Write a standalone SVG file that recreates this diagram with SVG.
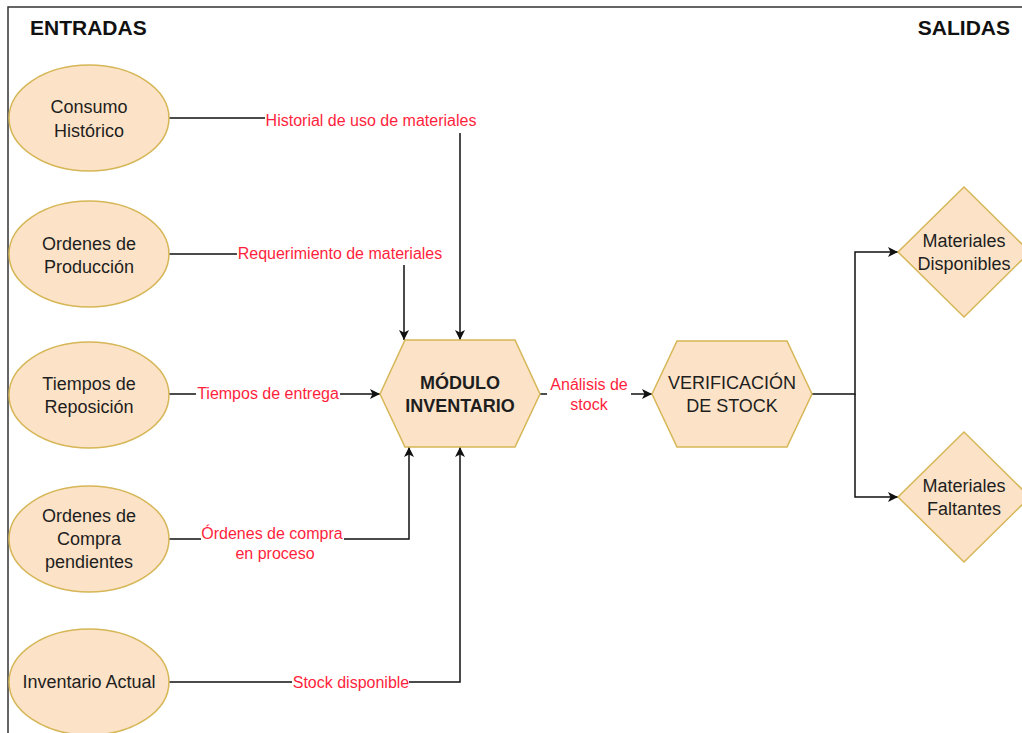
<svg xmlns="http://www.w3.org/2000/svg" width="1022" height="733" viewBox="0 0 1022 733">
  <style>
    .shape { fill: #fce3c7; stroke: #d6b656; stroke-width: 1.5; }
    .ntext { font-family: "Liberation Sans", Arial, sans-serif; font-size: 18px; fill: #1e1e1e; text-anchor: middle; }
    .bold { font-weight: bold; }
    .head { font-family: "Liberation Sans", Arial, sans-serif; font-size: 21px; font-weight: bold; fill: #111; }
    .edge { fill: none; stroke: #111; stroke-width: 1.5; }
    .lbg { fill: #ffffff; }
    .ltext { font-family: "Liberation Sans", Arial, sans-serif; font-size: 16px; fill: #ff1f3d; text-anchor: middle; }
  </style>
  <defs>
    <marker id="arrow" viewBox="0 0 10 10" refX="10" refY="5" markerWidth="10" markerHeight="10" markerUnits="userSpaceOnUse" orient="auto">
      <path d="M0,0 L10,5 L0,10 L2.5,5 Z" fill="#111"/>
    </marker>
  </defs>

  <rect x="0" y="0" width="1022" height="733" fill="#ffffff"/>
  <!-- frame -->
  <path d="M8,733 V7 H1022" fill="none" stroke="#333" stroke-width="1.5"/>

  <text class="head" x="30" y="35">ENTRADAS</text>
  <text class="head" x="1010" y="35" text-anchor="end">SALIDAS</text>

  <!-- connectors -->
  <g id="connectors">
    <path class="edge" d="M169,118 H460 V340" marker-end="url(#arrow)"/>
    <path class="edge" d="M169,254 H404 V340" marker-end="url(#arrow)"/>
    <path class="edge" d="M169,394 H380" marker-end="url(#arrow)"/>
    <path class="edge" d="M169,539 H409 V447" marker-end="url(#arrow)"/>
    <path class="edge" d="M169,682 H460 V447" marker-end="url(#arrow)"/>
    <path class="edge" d="M540,394 H652" marker-end="url(#arrow)"/>
    <path class="edge" d="M812,394 H855 V252 H898" marker-end="url(#arrow)"/>
    <path class="edge" d="M855,394 V497 H898" marker-end="url(#arrow)"/>

    <!-- edge labels -->
    <rect class="lbg" x="265" y="109" width="212" height="24"/>
    <text class="ltext" x="371" y="126">Historial de uso de materiales</text>
    <rect class="lbg" x="237" y="245" width="207" height="20"/>
    <text class="ltext" x="340" y="259">Requerimiento de materiales</text>
    <rect class="lbg" x="196" y="385" width="144" height="20"/>
    <text class="ltext" x="268" y="399">Tiempos de entrega</text>
    <rect class="lbg" x="201" y="522" width="143" height="42"/>
    <text class="ltext" x="272" y="539">Órdenes de compra</text>
    <text class="ltext" x="275" y="559">en proceso</text>
    <rect class="lbg" x="292" y="673" width="117" height="20"/>
    <text class="ltext" x="351" y="688">Stock disponible</text>
    <rect class="lbg" x="547" y="374" width="84" height="42"/>
    <text class="ltext" x="589" y="390">Análisis de</text>
    <text class="ltext" x="589" y="410">stock</text>
  </g>

  <!-- inputs -->
  <g id="consumo-historico">
    <ellipse class="shape" cx="89" cy="118" rx="80" ry="53"/>
    <text class="ntext" x="89" y="113">Consumo</text>
    <text class="ntext" x="89" y="137">Histórico</text>
  </g>
  <g id="ordenes-produccion">
    <ellipse class="shape" cx="89" cy="254" rx="80" ry="53"/>
    <text class="ntext" x="89" y="250">Ordenes de</text>
    <text class="ntext" x="89" y="273">Producción</text>
  </g>
  <g id="tiempos-reposicion">
    <ellipse class="shape" cx="89" cy="395" rx="80" ry="53"/>
    <text class="ntext" x="89" y="390">Tiempos de</text>
    <text class="ntext" x="89" y="413">Reposición</text>
  </g>
  <g id="ordenes-compra">
    <ellipse class="shape" cx="89" cy="539" rx="80" ry="53"/>
    <text class="ntext" x="89" y="522">Ordenes de</text>
    <text class="ntext" x="89" y="545">Compra</text>
    <text class="ntext" x="89" y="568">pendientes</text>
  </g>
  <g id="inventario-actual">
    <ellipse class="shape" cx="89" cy="682" rx="80" ry="53"/>
    <text class="ntext" x="89" y="688">Inventario Actual</text>
  </g>

  <!-- processing -->
  <g id="modulo-inventario">
    <polygon class="shape" points="380,394 405,340 515,340 540,394 515,447 405,447"/>
    <text class="ntext bold" x="460" y="389">MÓDULO</text>
    <text class="ntext bold" x="460" y="412">INVENTARIO</text>
  </g>
  <g id="verificacion-stock">
    <polygon class="shape" points="652,394 677,341 787,341 812,394 787,447 677,447"/>
    <text class="ntext" x="732" y="389">VERIFICACIÓN</text>
    <text class="ntext" x="732" y="412">DE STOCK</text>
  </g>

  <!-- outputs -->
  <g id="materiales-disponibles">
    <polygon class="shape" points="964,187 1030,252 964,317 898,252"/>
    <text class="ntext" x="964" y="247">Materiales</text>
    <text class="ntext" x="964" y="270">Disponibles</text>
  </g>
  <g id="materiales-faltantes">
    <polygon class="shape" points="964,432 1030,497 964,562 898,497"/>
    <text class="ntext" x="964" y="492">Materiales</text>
    <text class="ntext" x="964" y="515">Faltantes</text>
  </g>
</svg>
